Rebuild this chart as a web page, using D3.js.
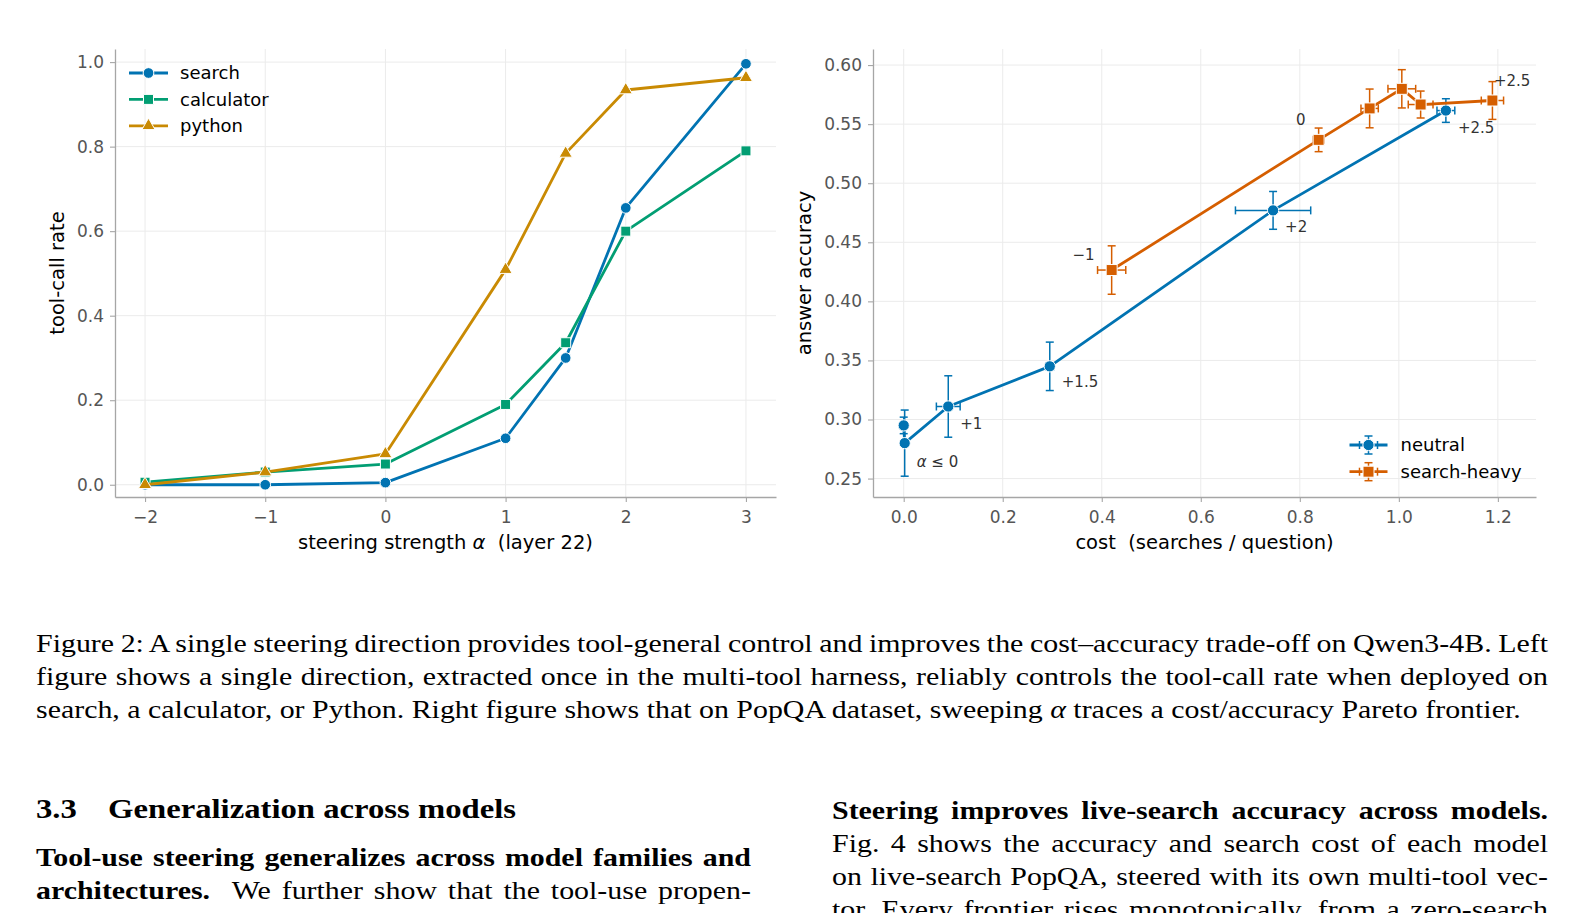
<!DOCTYPE html>
<html>
<head>
<meta charset="utf-8">
<script src="https://cdn.jsdelivr.net/npm/d3@7"></script>
<style>
  body { margin: 0; background: #fff; }
  .chart text { font-family: "DejaVu Sans", sans-serif; }
  .body text { font-family: "Liberation Serif", "Times New Roman", serif; fill: #000; }
</style>
</head>
<body>
<svg id="page" width="1585" height="913"></svg>
<script>
/* ---------------- left panel: tool-call rate vs alpha ---------------- */
var alphas      = [-2, -1, 0, 1, 1.5, 2, 3];
var searchRate  = [0.000, 0.000, 0.005, 0.110, 0.300, 0.655, 0.996];
var calcRate    = [0.006, 0.030, 0.049, 0.190, 0.336, 0.600, 0.790];
var pythonRate  = [0.000, 0.030, 0.073, 0.509, 0.784, 0.934, 0.963];
var toolNames   = ["search", "calculator", "python"];
var leftXTicks  = [-2, -1, 0, 1, 2, 3];
var leftYTicks  = [0.0, 0.2, 0.4, 0.6, 0.8, 1.0];

/* ---------------- right panel: cost vs accuracy ---------------- */
var neutralCost    = [0.000, 0.002, 0.090, 0.295, 0.746, 1.095];
var neutralCostErr = [0.000, 0.000, 0.024, 0.008, 0.076, 0.018];
var neutralAcc     = [0.295, 0.280, 0.311, 0.345, 0.477, 0.5615];
var neutralAccErr  = [0.007, 0.028, 0.026, 0.0205, 0.016, 0.010];
var neutralLabels  = ["", "α ≤ 0", "+1", "+1.5", "+2", "+2.5"];

var heavyCost    = [0.420, 0.838, 0.941, 1.006, 1.044, 1.189];
var heavyCostErr = [0.0285, 0.011, 0.0175, 0.028, 0.025, 0.0225];
var heavyAcc     = [0.4265, 0.5367, 0.5633, 0.5799, 0.5666, 0.570];
var heavyAccErr  = [0.0205, 0.010, 0.0164, 0.0162, 0.0114, 0.016];
var heavyLabels  = ["−1", "0", "", "", "", "+2.5"];

var rightXTicks = [0.0, 0.2, 0.4, 0.6, 0.8, 1.0, 1.2];
var rightYTicks = [0.25, 0.30, 0.35, 0.40, 0.45, 0.50, 0.55, 0.60];
var seriesNames = ["neutral", "search-heavy"];

/* ---------------- text below the figure ---------------- */
var captionLines = [
  "Figure 2: A single steering direction provides tool-general control and improves the cost–accuracy trade-off on Qwen3-4B. Left",
  "figure shows a single direction, extracted once in the multi-tool harness, reliably controls the tool-call rate when deployed on",
  ["search, a calculator, or Python. Right figure shows that on PopQA dataset, sweeping ", "α", " traces a cost/accuracy Pareto frontier."]
];
var sectionNum   = "3.3";
var sectionTitle = "Generalization across models";
var leftColLines = [
  ["Tool-use steering generalizes across model families and", ""],
  ["architectures.", "We further show that the tool-use propen-"]
];
var rightColLines = [
  ["Steering improves live-search accuracy across models.", ""],
  ["", "Fig. 4 shows the accuracy and search cost of each model"],
  ["", "on live-search PopQA, steered with its own multi-tool vec-"],
  ["", "tor. Every frontier rises monotonically, from a zero-search"]
];

/* colours */
var toolColors = ["#0173b2", "#029e73", "#c98a03"];
var frontColors = ["#0173b2", "#d55e00"];
var gridColor = "#ebebeb", spineColor = "#a6a6a6", tickText = "#555";

var svg = d3.select("#page");
svg.append("rect").attr("width", 1585).attr("height", 913).attr("fill", "#fff");

function drawFrame(g, x, y, xt, yt, xfmt, yfmt) {
  var x0 = x.range()[0], x1 = x.range()[1], y0 = y.range()[0], y1 = y.range()[1];
  g.append("g").selectAll("line").data(xt).join("line")
    .attr("x1", d => x(d)).attr("x2", d => x(d)).attr("y1", y0).attr("y2", y1)
    .attr("stroke", gridColor).attr("stroke-width", 1);
  g.append("g").selectAll("line").data(yt).join("line")
    .attr("y1", d => y(d)).attr("y2", d => y(d)).attr("x1", x0).attr("x2", x1)
    .attr("stroke", gridColor).attr("stroke-width", 1);

  var ax = g.append("g").attr("transform", "translate(0," + y0 + ")")
    .call(d3.axisBottom(x).tickValues(xt).tickFormat(xfmt).tickSize(5).tickSizeOuter(0).tickPadding(9));
  var ay = g.append("g").attr("transform", "translate(" + x0 + ",0)")
    .call(d3.axisLeft(y).tickValues(yt).tickFormat(yfmt).tickSize(5).tickSizeOuter(0).tickPadding(6));
  [ax, ay].forEach(function (a) {
    a.select(".domain").attr("stroke", spineColor).attr("stroke-width", 1.3);
    a.selectAll(".tick line").attr("stroke", spineColor).attr("stroke-width", 1.1);
    a.selectAll(".tick text").attr("fill", tickText).style("font-size", "17px")
      .style("font-family", "DejaVu Sans");
  });
}

function marker(shape, size) {
  return d3.symbol().type(shape).size(size);
}

/* ================= left panel ================= */
var lx = d3.scaleLinear().domain([-2.25, 3.25]).range([115, 776]);
var ly = d3.scaleLinear().domain([-0.029, 1.031]).range([497, 49]);
var left = svg.append("g").attr("class", "chart");
drawFrame(left, lx, ly, leftXTicks, leftYTicks, d3.format(".0f"), d3.format(".1f"));

var rates = [searchRate, calcRate, pythonRate];
var toolShapes = [marker(d3.symbolCircle, 90), marker(d3.symbolSquare, 100), marker(d3.symbolTriangle, 75)];
var line = d3.line().x(d => lx(d[0])).y(d => ly(d[1]));

rates.forEach(function (r, i) {
  var pts = alphas.map((a, k) => [a, r[k]]);
  left.append("path").attr("d", line(pts)).attr("fill", "none")
    .attr("stroke", toolColors[i]).attr("stroke-width", 2.8).attr("stroke-linejoin", "round");
  left.append("g").selectAll("path").data(pts).join("path")
    .attr("d", toolShapes[i])
    .attr("transform", d => "translate(" + lx(d[0]) + "," + ly(d[1]) + ")")
    .attr("fill", toolColors[i]).attr("stroke", "#fff").attr("stroke-width", 1);
});

var lleg = left.append("g");
toolNames.forEach(function (n, i) {
  var yy = 73 + i * 26.4;
  lleg.append("line").attr("x1", 129).attr("x2", 168).attr("y1", yy).attr("y2", yy)
    .attr("stroke", toolColors[i]).attr("stroke-width", 2.8);
  lleg.append("path").attr("d", toolShapes[i]).attr("transform", "translate(148.5," + yy + ")")
    .attr("fill", toolColors[i]).attr("stroke", "#fff").attr("stroke-width", 1);
  lleg.append("text").attr("x", 180).attr("y", yy).attr("dy", "0.36em")
    .style("font-size", "18px").text(n);
});

left.append("text").attr("transform", "translate(64,273) rotate(-90)")
  .attr("text-anchor", "middle").style("font-size", "19.5px").text("tool-call rate");
var lxl = left.append("text").attr("x", 445.5).attr("y", 549).attr("text-anchor", "middle")
  .style("font-size", "19.5px").style("white-space", "pre");
lxl.append("tspan").text("steering strength ");
lxl.append("tspan").style("font-style", "italic").text("α");
lxl.append("tspan").text("  (layer 22)");

/* ================= right panel ================= */
var rx = d3.scaleLinear().domain([-0.062, 1.277]).range([873, 1536]);
var ry = d3.scaleLinear().domain([0.2344, 0.6136]).range([497, 49]);
var right = svg.append("g").attr("class", "chart");
drawFrame(right, rx, ry, rightXTicks, rightYTicks, d3.format(".1f"), d3.format(".2f"));

var frontShapes = [marker(d3.symbolCircle, 100), marker(d3.symbolSquare, 121)];
var rline = d3.line().x(d => rx(d.c)).y(d => ry(d.a));
var fronts = [
  neutralCost.map((c, k) => ({c: c, ce: neutralCostErr[k], a: neutralAcc[k], ae: neutralAccErr[k], lab: neutralLabels[k]})),
  heavyCost.map((c, k) => ({c: c, ce: heavyCostErr[k], a: heavyAcc[k], ae: heavyAccErr[k], lab: heavyLabels[k]}))
];
// label offsets in px (dx, dy, anchor)
var labelPos = [
  [[0, 0, "start"], [12, 24, "start"], [12, 22, "start"], [12, 21, "start"], [12, 22, "start"], [12, 22, "start"]],
  [[-17, -10, "end"], [-13, -15, "end"], [0, 0, "start"], [0, 0, "start"], [0, 0, "start"], [1.5, -15, "start"]]
];
var cap = 4;

fronts.forEach(function (pts, i) {
  var col = frontColors[i];
  right.append("path").attr("d", rline(pts)).attr("fill", "none")
    .attr("stroke", col).attr("stroke-width", 2.8).attr("stroke-linejoin", "round");
  var eb = right.append("g").attr("stroke", col).attr("stroke-width", 1.5);
  pts.forEach(function (d) {
    var px = rx(d.c), py = ry(d.a);
    var yt = ry(d.a + d.ae), yb = ry(d.a - d.ae);
    eb.append("line").attr("x1", px).attr("x2", px).attr("y1", yt).attr("y2", yb);
    eb.append("line").attr("x1", px - cap).attr("x2", px + cap).attr("y1", yt).attr("y2", yt);
    eb.append("line").attr("x1", px - cap).attr("x2", px + cap).attr("y1", yb).attr("y2", yb);
    if (d.ce > 0) {
      var xl = rx(d.c - d.ce), xr = rx(d.c + d.ce);
      eb.append("line").attr("x1", xl).attr("x2", xr).attr("y1", py).attr("y2", py);
      eb.append("line").attr("x1", xl).attr("x2", xl).attr("y1", py - cap).attr("y2", py + cap);
      eb.append("line").attr("x1", xr).attr("x2", xr).attr("y1", py - cap).attr("y2", py + cap);
    }
  });
  right.append("g").selectAll("path").data(pts).join("path")
    .attr("d", frontShapes[i])
    .attr("transform", d => "translate(" + rx(d.c) + "," + ry(d.a) + ")")
    .attr("fill", col).attr("stroke", "#fff").attr("stroke-width", 1);
  pts.forEach(function (d, k) {
    if (!d.lab) return;
    var p = labelPos[i][k];
    var t = right.append("text").attr("x", rx(d.c) + p[0]).attr("y", ry(d.a) + p[1])
      .attr("text-anchor", p[2]).attr("fill", "#333").style("font-size", "15px");
    if (d.lab.indexOf("α") === 0) {
      t.append("tspan").style("font-style", "italic").text("α");
      t.append("tspan").text(d.lab.slice(1));
    } else {
      t.text(d.lab);
    }
  });
});

var rleg = right.append("g");
seriesNames.forEach(function (n, i) {
  var yy = 445 + i * 26.7, xx = 1368.5, col = frontColors[i];
  var g = rleg.append("g").attr("stroke", col).attr("stroke-width", 1.5);
  g.append("line").attr("x1", xx - 19).attr("x2", xx + 19).attr("y1", yy).attr("y2", yy).attr("stroke-width", 2.8);
  g.append("line").attr("x1", xx).attr("x2", xx).attr("y1", yy - 9).attr("y2", yy + 9);
  g.append("line").attr("x1", xx - cap).attr("x2", xx + cap).attr("y1", yy - 9).attr("y2", yy - 9);
  g.append("line").attr("x1", xx - cap).attr("x2", xx + cap).attr("y1", yy + 9).attr("y2", yy + 9);
  g.append("line").attr("x1", xx - 9).attr("x2", xx - 9).attr("y1", yy - cap).attr("y2", yy + cap);
  g.append("line").attr("x1", xx + 9).attr("x2", xx + 9).attr("y1", yy - cap).attr("y2", yy + cap);
  rleg.append("path").attr("d", frontShapes[i]).attr("transform", "translate(" + xx + "," + yy + ")")
    .attr("fill", col).attr("stroke", "#fff").attr("stroke-width", 1);
  rleg.append("text").attr("x", 1400.5).attr("y", yy).attr("dy", "0.36em")
    .style("font-size", "18px").text(n);
});

right.append("text").attr("transform", "translate(811,273) rotate(-90)")
  .attr("text-anchor", "middle").style("font-size", "19.5px").text("answer accuracy");
right.append("text").attr("x", 1204.5).attr("y", 549).attr("text-anchor", "middle")
  .style("font-size", "19.5px").style("white-space", "pre").text("cost  (searches / question)");

/* ================= caption and body text ================= */
// the page text in the reference is set a bit wider than Liberation Serif, so stretch horizontally
var sx = 1.168;
var body = svg.append("g").attr("class", "body");

function serifText(x, y, size) {
  return body.append("text")
    .attr("transform", "translate(" + x + "," + y + ") scale(" + sx + ",1)")
    .style("font-size", size + "px").style("white-space", "pre");
}

function justify(t, width) {
  var w = width / sx;
  var L = t.node().getComputedTextLength();
  var n = (t.text().match(/ /g) || []).length;
  if (n > 0) t.style("word-spacing", ((w - L) / n) + "px");
}

var capFont = 25.6;
captionLines.forEach(function (ln, i) {
  var t = serifText(36, 652 + i * 33, capFont);
  if (Array.isArray(ln)) {
    t.append("tspan").text(ln[0]);
    t.append("tspan").style("font-style", "italic").text(ln[1]);
    t.append("tspan").text(ln[2]);
  } else {
    t.text(ln);
    justify(t, 1548 - 36);
  }
});

serifText(36, 818, 28).style("font-weight", "bold").text(sectionNum);
serifText(108, 818, 28).style("font-weight", "bold").text(sectionTitle);

function column(lines, x0, x1, y0) {
  lines.forEach(function (ln, i) {
    var t = serifText(x0, y0 + i * 33, capFont);
    if (ln[0]) t.append("tspan").style("font-weight", "bold").text(ln[0]);
    if (ln[0] && ln[1]) t.append("tspan").text("  ");
    if (ln[1]) t.append("tspan").text(ln[1]);
    justify(t, x1 - x0);
  });
}
column(leftColLines, 36, 751, 866);
column(rightColLines, 832, 1548, 819);
</script>
</body>
</html>
